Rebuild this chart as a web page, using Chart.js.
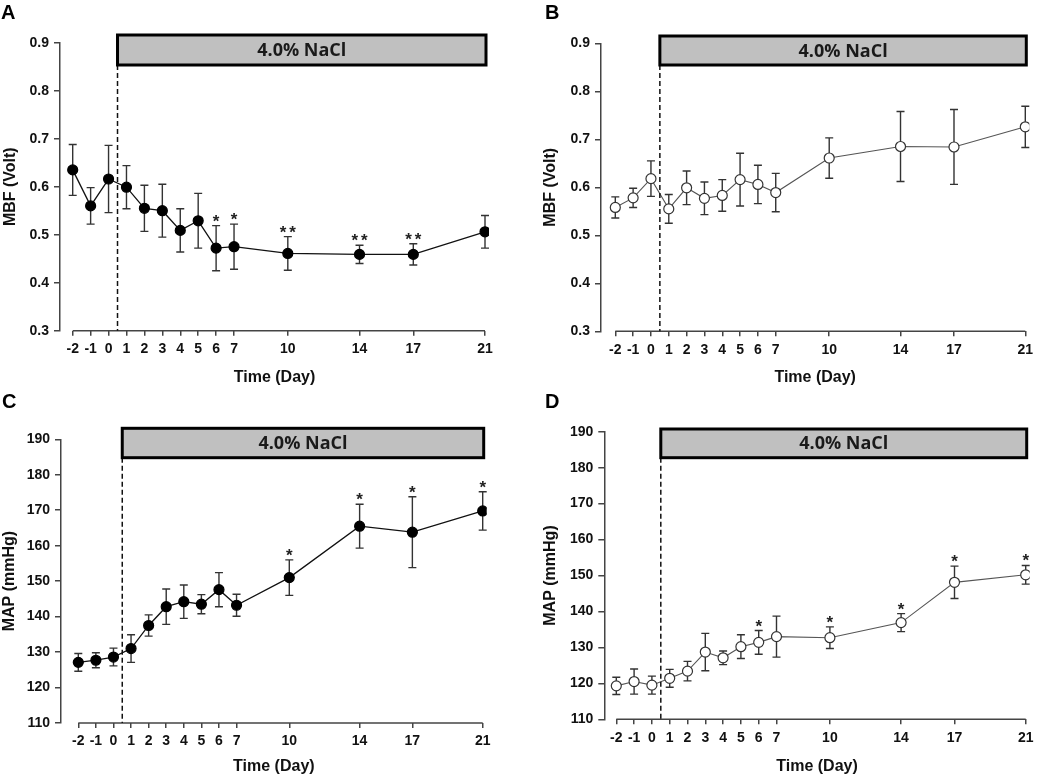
<!DOCTYPE html>
<html>
<head>
<meta charset="utf-8">
<script src="https://cdn.jsdelivr.net/npm/chart.js@4.4.1/dist/chart.umd.min.js"></script>
<style>
  body { margin: 0; background: #fff; }
  #wrap { position: relative; width: 1050px; height: 778px; }
  canvas { position: absolute; }
</style>
</head>
<body>
<div id="wrap">
  <canvas id="cA" width="525" height="389" style="left:0;top:0"></canvas>
  <canvas id="cB" width="525" height="389" style="left:525px;top:0"></canvas>
  <canvas id="cC" width="525" height="389" style="left:0;top:389px"></canvas>
  <canvas id="cD" width="525" height="389" style="left:525px;top:389px"></canvas>
</div>
<script>
// ---- data ----
const days = [-2, -1, 0, 1, 2, 3, 4, 5, 6, 7, 10, 14, 17, 21];

const mbfA = [0.635, 0.560, 0.616, 0.599, 0.555, 0.550, 0.509, 0.529, 0.472, 0.475, 0.461, 0.459, 0.459, 0.506];
const mbfASem = [0.053, 0.038, 0.070, 0.045, 0.048, 0.055, 0.045, 0.057, 0.047, 0.047, 0.035, 0.019, 0.022, 0.034];
const mbfAStars = ["", "", "", "", "", "", "", "", "*", "*", "**", "**", "**", ""];

const mbfB = [0.558, 0.578, 0.618, 0.555, 0.599, 0.577, 0.583, 0.616, 0.606, 0.589, 0.661, 0.685, 0.684, 0.726];
const mbfBSem = [0.022, 0.020, 0.037, 0.030, 0.035, 0.034, 0.033, 0.055, 0.040, 0.040, 0.042, 0.073, 0.078, 0.043];
const mbfBStars = ["", "", "", "", "", "", "", "", "", "", "", "", "", ""];

const mapC = [127.1, 127.7, 128.6, 131.0, 137.5, 142.8, 144.2, 143.5, 147.6, 143.2, 151.0, 165.5, 163.8, 169.8];
const mapCSem = [2.5, 2.1, 2.5, 3.9, 3.0, 5.0, 4.7, 2.7, 4.8, 3.1, 5.0, 6.2, 10.0, 5.4];
const mapCStars = ["", "", "", "", "", "", "", "", "", "", "*", "*", "*", "*"];

const mapD = [119.3, 120.5, 119.5, 121.4, 123.4, 128.7, 127.1, 130.2, 131.4, 133.0, 132.7, 136.9, 148.1, 150.2];
const mapDSem = [2.4, 3.5, 2.5, 2.5, 2.7, 5.2, 1.9, 3.3, 3.3, 5.7, 3.0, 2.5, 4.5, 2.6];
const mapDStars = ["", "", "", "", "", "", "", "", "*", "", "*", "*", "*", "*"];

const saltStart = 0.5;
const saltLabel = "4.0% NaCl";

// ---- panel layout (pixels, canvas-local) ----
const panels = [
  { id: "cA", letter: "A", means: mbfA, sem: mbfASem, stars: mbfAStars, open: false,
    yMin: 0.3, yMax: 0.9, yStep: 0.1, yDec: 1, yTitle: "MBF (Volt)",
    axisLeft: 60, top: 42.7, bottom: 330.7, x0: 72.7, x1: 485, boxTop: 35, boxBottom: 65, titlePad: 1, letterX: 1 },
  { id: "cB", letter: "B", means: mbfB, sem: mbfBSem, stars: mbfBStars, open: true,
    yMin: 0.3, yMax: 0.9, yStep: 0.1, yDec: 1, yTitle: "MBF (Volt)",
    axisLeft: 76, top: 43.3, bottom: 331.3, x0: 90.3, x1: 500.3, boxTop: 36, boxBottom: 65, titlePad: 16, letterX: 20 },
  { id: "cC", letter: "C", means: mapC, sem: mapCSem, stars: mapCStars, open: false,
    yMin: 110, yMax: 190, yStep: 10, yDec: 0, yTitle: "MAP (mmHg)",
    axisLeft: 61, top: 50.3, bottom: 334, x0: 78.3, x1: 482.7, boxTop: 39.3, boxBottom: 68.7, titlePad: 0, letterX: 2 },
  { id: "cD", letter: "D", means: mapD, sem: mapDSem, stars: mapDStars, open: true,
    yMin: 110, yMax: 190, yStep: 10, yDec: 0, yTitle: "MAP (mmHg)",
    axisLeft: 79.3, top: 42.7, bottom: 330.3, x0: 91.3, x1: 500.7, boxTop: 40, boxBottom: 68.7, titlePad: 16, letterX: 20 },
];

const FONT = "'Liberation Sans', Arial, sans-serif";

// error bars behind the line, extras on top
const errorBarPlugin = {
  id: "errorBars",
  beforeDatasetsDraw(chart) {
    const p = chart.options.plugins.panel;
    const { ctx, scales: { x, y } } = chart;
    ctx.save();
    ctx.strokeStyle = "#333";
    ctx.lineWidth = 1.4;
    days.forEach((d, i) => {
      const px = x.getPixelForValue(d);
      const yt = y.getPixelForValue(p.means[i] + p.sem[i]);
      const yb = y.getPixelForValue(p.means[i] - p.sem[i]);
      ctx.beginPath();
      ctx.moveTo(px, yt); ctx.lineTo(px, yb);
      ctx.moveTo(px - 4, yt); ctx.lineTo(px + 4, yt);
      ctx.moveTo(px - 4, yb); ctx.lineTo(px + 4, yb);
      ctx.stroke();
    });
    ctx.restore();
  },
  afterDraw(chart) {
    const p = chart.options.plugins.panel;
    const { ctx, chartArea, scales: { x, y } } = chart;
    ctx.save();

    // x axis line from first to last day
    ctx.strokeStyle = "#444";
    ctx.lineWidth = 1.5;
    ctx.beginPath();
    ctx.moveTo(x.getPixelForValue(days[0]), chartArea.bottom);
    ctx.lineTo(x.getPixelForValue(days[days.length - 1]), chartArea.bottom);
    ctx.stroke();

    // dashed start line
    const xs = x.getPixelForValue(saltStart);
    ctx.strokeStyle = "#111";
    ctx.setLineDash([5, 3]);
    ctx.beginPath();
    ctx.moveTo(xs, p.boxBottom);
    ctx.lineTo(xs, chartArea.bottom);
    ctx.stroke();
    ctx.setLineDash([]);

    // salt box
    const xe = x.getPixelForValue(days[days.length - 1]) + 1;
    ctx.fillStyle = "#c0c0c0";
    ctx.fillRect(xs, p.boxTop, xe - xs, p.boxBottom - p.boxTop);
    ctx.strokeStyle = "#000";
    ctx.lineWidth = 3;
    ctx.strokeRect(xs, p.boxTop, xe - xs, p.boxBottom - p.boxTop);
    ctx.fillStyle = "#1a1a1a";
    ctx.font = "bold 18px 'Open Sans', sans-serif";
    ctx.textAlign = "center";
    ctx.textBaseline = "middle";
    ctx.fillText(saltLabel, (xs + xe) / 2, (p.boxTop + p.boxBottom) / 2 + 1);

    // significance stars
    ctx.font = "bold 17px " + FONT;
    ctx.textBaseline = "alphabetic";
    ctx.fillStyle = "#222";
    days.forEach((d, i) => {
      const s = p.stars[i];
      if (!s) return;
      const px = x.getPixelForValue(d);
      const yt = y.getPixelForValue(p.means[i] + p.sem[i]) + 1;
      if (s.length === 1) {
        ctx.fillText("*", px, yt);
      } else {
        ctx.fillText("*", px - 4.8, yt);
        ctx.fillText("*", px + 4.8, yt);
      }
    });

    // panel letter
    ctx.font = "bold 20px " + FONT;
    ctx.textAlign = "left";
    ctx.fillStyle = "#000";
    ctx.fillText(p.letter, p.letterX, 19);
    ctx.restore();
  },
};

function makePanel(p) {
  const pxPerDay = (p.x1 - p.x0) / (days[days.length - 1] - days[0]);
  const xMin = days[0] - (p.x0 - p.axisLeft) / pxPerDay;
  const xMax = days[days.length - 1] + 4 / pxPerDay;
  const canvas = document.getElementById(p.id);
  const H = canvas.height;

  new Chart(canvas, {
    type: "line",
    data: {
      datasets: [{
        data: days.map((d, i) => ({ x: d, y: p.means[i] })),
        borderColor: p.open ? "#555" : "#111",
        borderWidth: p.open ? 1.1 : 1.3,
        tension: 0,
        pointRadius: 5,
        pointBackgroundColor: p.open ? "#fff" : "#000",
        pointBorderColor: p.open ? "#333" : "#000",
        pointBorderWidth: 1.2,
      }],
    },
    options: {
      responsive: false,
      animation: false,
      layout: { padding: { top: p.top, right: canvas.width - (p.x1 + 4), left: 0, bottom: 0 } },
      plugins: { legend: { display: false }, tooltip: { enabled: false }, panel: p },
      scales: {
        x: {
          type: "linear",
          min: xMin,
          max: xMax,
          afterBuildTicks: (s) => { s.ticks = days.map((v) => ({ value: v })); },
          afterFit: (s) => { s.height = H - p.bottom; },
          ticks: { autoSkip: false, maxRotation: 0, padding: 5, color: "#111",
                   font: { family: FONT, size: 14, weight: "bold" }, callback: (v) => String(v) },
          grid: { drawOnChartArea: false, tickLength: 5, color: "#444", lineWidth: 1.5 },
          border: { display: false },
          title: { display: true, text: "Time (Day)", color: "#111", padding: { top: 0, bottom: 2 },
                   font: { family: FONT, size: 16, weight: "bold" } },
        },
        y: {
          min: p.yMin,
          max: p.yMax,
          afterFit: (s) => { s.width = p.axisLeft; },
          ticks: { stepSize: p.yStep, padding: 5, color: "#111",
                   font: { family: FONT, size: 14, weight: "bold" }, callback: (v) => v.toFixed(p.yDec) },
          grid: { drawOnChartArea: false, tickLength: 6, color: "#444", lineWidth: 1.5 },
          border: { display: true, color: "#444", width: 1.5 },
          title: { display: true, text: p.yTitle, color: "#111", padding: { top: p.titlePad, bottom: 0 },
                   font: { family: FONT, size: 16, weight: "bold" } },
        },
      },
    },
    plugins: [errorBarPlugin],
  });
}

panels.forEach(makePanel);
</script>
</body>
</html>
